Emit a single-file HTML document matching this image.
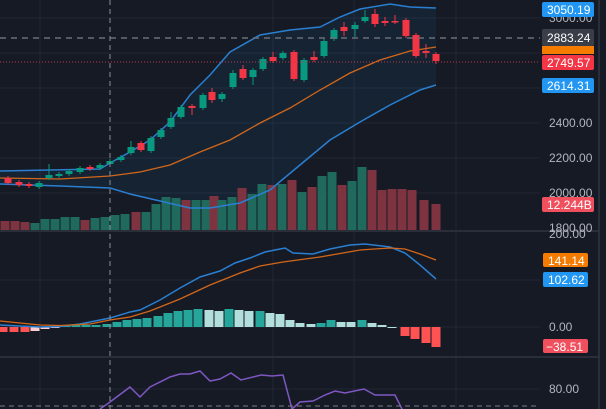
<!DOCTYPE html>
<html><head><meta charset="utf-8"><style>
html,body{margin:0;padding:0;background:#161a25;width:606px;height:409px;overflow:hidden}
svg{display:block}
text{font-family:"Liberation Sans",sans-serif}
</style></head><body>
<svg id="s" width="606" height="409" xmlns="http://www.w3.org/2000/svg">
<rect width="606" height="409" fill="#161a25"/>
<g stroke="#232733" stroke-width="1">
<line x1="0" y1="18" x2="540" y2="18"/><line x1="0" y1="53" x2="540" y2="53"/><line x1="0" y1="88" x2="540" y2="88"/>
<line x1="0" y1="123" x2="540" y2="123"/><line x1="0" y1="158" x2="540" y2="158"/><line x1="0" y1="193" x2="540" y2="193"/>
<line x1="0" y1="280" x2="540" y2="280"/><line x1="0" y1="327" x2="540" y2="327"/><line x1="0" y1="389" x2="540" y2="389"/>
<line x1="40" y1="0" x2="40" y2="409"/><line x1="273" y1="0" x2="273" y2="409"/><line x1="354" y1="0" x2="354" y2="409"/><line x1="456" y1="0" x2="456" y2="409"/>
</g>
<line x1="0" y1="231" x2="600" y2="231" stroke="#2a2e39" stroke-width="2"/>
<line x1="0" y1="357" x2="600" y2="357" stroke="#2a2e39" stroke-width="2"/>
<line x1="599" y1="0" x2="599" y2="409" stroke="#2a2e39" stroke-width="2"/>
<g id="g"></g>
<line x1="0" y1="38" x2="540" y2="38" stroke="#6a6e78" stroke-width="1.5" stroke-dasharray="6,5"/>
<line x1="0" y1="62" x2="540" y2="62" stroke="#c0384a" stroke-width="1" stroke-dasharray="1,2"/>
<line x1="110" y1="0" x2="110" y2="409" stroke="#8a8e98" stroke-width="1" stroke-dasharray="5,4"/>
<line x1="0" y1="406" x2="540" y2="406" stroke="#7a7e88" stroke-width="1" stroke-dasharray="5,4"/>
<g font-size="12" fill="#b2b5be">
<text x="549" y="22">3000.00</text>
<text x="549" y="127">2400.00</text>
<text x="549" y="162">2200.00</text>
<text x="549" y="197">2000.00</text>
<text x="549" y="232">1800.00</text>
<text x="549" y="238">200.00</text>
<text x="549" y="331">0.00</text>
<text x="549" y="393">80.00</text>
</g>
<g font-size="12" fill="#fff">
<rect x="542" y="2" width="52" height="15" rx="2" fill="#2196f3"/><text x="547" y="14">3050.19</text>
<rect x="542" y="46" width="52" height="8" fill="#f57c00"/>
<rect x="542" y="29" width="52" height="17" rx="2" fill="#3a3e48"/><text x="547" y="42">2883.24</text>
<rect x="542" y="55" width="52" height="15" rx="2" fill="#f23645"/><text x="547" y="67">2749.57</text>
<rect x="542" y="78" width="52" height="15" rx="2" fill="#2196f3"/><text x="547" y="90">2614.31</text>
<rect x="542" y="197" width="52" height="15" rx="2" fill="#f0505e"/><text x="547" y="209">12.244B</text>
<rect x="543" y="253" width="45" height="14" rx="2" fill="#f57c00"/><text x="548" y="265">141.14</text>
<rect x="543" y="272" width="45" height="15" rx="2" fill="#2196f3"/><text x="548" y="284">102.62</text>
<rect x="543" y="339" width="45" height="14" rx="2" fill="#f0505e"/><text x="546" y="351">−38.51</text>
</g>
</svg>
<script>
const g=document.getElementById('g');let h='';
const P=a=>a.map(p=>p.join(',')).join(' ');
const up=[[0,171],[100,169],[110,163],[130,152],[150,140],[170,122],[190,95],[210,75],[230,52],[260,35],[290,30],[320,27],[340,17],[360,9],[390,4],[410,7],[436,8]];
const lo=[[0,184],[60,186],[110,188],[130,194],[160,201],[190,208],[210,208],[240,203],[270,190],[300,165],[330,140],[360,122],[390,105],[420,90],[436,85]];
const mid=[[0,178],[60,179],[110,176],[140,172],[170,165],[200,152],[230,140],[260,123],[290,108],[320,90],[350,73],[380,60],[410,51],[436,47]];
h+=`<polygon points="${P(up)} ${P(lo.slice().reverse())}" fill="rgba(33,150,243,0.07)"/>`;
// volume
const vol=[[5,221,'r'],[15,221,'r'],[25,222,'r'],[35,223,'g'],[45,219,'g'],[55,219,'g'],[65,217,'g'],[75,217,'g'],[85,220,'r'],[95,218,'g'],[105,217,'g'],[115,215,'g'],[125,214,'g'],[136,212,'r'],[146,212,'g'],[156,204,'g'],[166,197,'g'],[176,198,'g'],[186,200,'r'],[196,200,'g'],[206,200,'g'],[214,196,'r'],[222,200,'g'],[232,197,'g'],[242,188,'r'],[252,194,'g'],[262,184,'g'],[272,185,'r'],[282,184,'g'],[292,180,'r'],[302,192,'g'],[312,187,'r'],[322,176,'g'],[332,172,'g'],[342,185,'r'],[352,181,'g'],[362,167,'g'],[372,170,'r'],[382,190,'r'],[392,189,'r'],[402,189,'r'],[412,190,'r'],[424,200,'r'],[436,204,'r']];
vol.forEach(v=>h+=`<rect x="${v[0]-4.5}" y="${v[1]}" width="9" height="${230-v[1]}" fill="${v[2]=='g'?'#1f6a5c':'#7e3440'}"/>`);
h+=`<polyline points="${P(up)}" fill="none" stroke="#2a7fd0" stroke-width="1.5"/>`;
h+=`<polyline points="${P(lo)}" fill="none" stroke="#2a7fd0" stroke-width="1.5"/>`;
h+=`<polyline points="${P(mid)}" fill="none" stroke="#d2671a" stroke-width="1.3"/>`;
// candles [cx, o, c, wickTop, wickBot]
const C=[[8,178,183,'r'],[19,182,185,'r'],[29,184,186,'r'],[39,183,187,'g'],[49,175,178,'g',164],[59,174,176,'g'],[69,171,174,'g'],[80,168,172,'g'],[90,167,169,'r'],[100,165,168,'g'],[110,161,164,'g'],[121,157,160,'g'],[131,147,153,'g',141],[141,143,150,'r'],[151,138,151,'g'],[161,130,137,'g'],[171,118,127,'g',112],[181,107,117,'g'],[192,106,108,'r',104,115],[203,95,108,'g'],[212,92,100,'r',88,103],[222,94,99,'g',92,102],[233,73,87,'g',70],[243,69,78,'r',65],[253,70,77,'g',68,85],[263,59,69,'g'],[273,57,61,'r',52],[283,53,58,'g'],[294,52,79,'r',50],[304,60,80,'g'],[314,57,60,'r',51],[324,41,56,'g'],[334,30,39,'g'],[344,27,31,'r',22,36],[355,25,29,'g',22,37],[365,17,21,'g',10],[375,14,24,'r',9,27],[385,21,23,'r',17,26],[395,21,22,'r',15],[406,20,36,'r'],[416,35,56,'r'],[426,51,53,'r',44,58],[436,54,61,'r',52,64]];
C.forEach(c=>{const col=c[3]=='g'?'#089981':'#f23645';const wt=c[4]||c[1]-2,wb=c[5]||c[2]+2;
h+=`<line x1="${c[0]}" y1="${wt}" x2="${c[0]}" y2="${wb}" stroke="${col}" stroke-width="1"/><rect x="${c[0]-3.5}" y="${c[1]}" width="7" height="${Math.max(1.5,c[2]-c[1])}" fill="${col}"/>`});
// MACD histogram
const H=[[3,332,'R'],[14,332,'R'],[25,332,'R'],[35,331,'p'],[45,329,'p'],[55,328,'p'],[66,326,'G'],[76,325,'G'],[86,325,'G'],[96,325,'G'],[107,324,'G'],[117,322,'G'],[127,320,'G'],[137,319,'G'],[147,318,'G'],[158,316,'G'],[168,313,'G'],[178,311,'G'],[188,310,'G'],[198,309,'G'],[209,310,'L'],[219,311,'L'],[229,309,'G'],[239,310,'L'],[249,311,'L'],[260,311,'G'],[270,313,'L'],[280,314,'L'],[290,320,'L'],[300,323,'L'],[311,324,'L'],[321,323,'G'],[331,320,'G'],[341,322,'L'],[351,322,'L'],[362,320,'G'],[372,323,'L'],[382,325,'L'],[392,327,'L'],[405,336,'R'],[415,339,'R'],[426,343,'R'],[436,347,'R']];
const HC={R:'#ff5252',p:'#ffcdd2',G:'#26a69a',L:'#b2dfdb'};
H.forEach(b=>{const y=Math.min(b[1],327),hh=Math.max(1,Math.abs(b[1]-327));h+=`<rect x="${b[0]-4.5}" y="${y}" width="9" height="${hh}" fill="${HC[b[2]]}"/>`});
const mb=[[0,325],[40,327],[60,326.5],[80,324],[110,318],[130,312],[140,310],[160,300],[180,288],[200,277],[220,271],[235,263],[250,258],[265,252],[280,249],[285,248],[293,253],[313,254],[330,249],[350,245],[365,244],[390,247],[405,253],[420,265],[436,279]];
const mo=[[0,321],[40,325],[60,325.5],[90,324],[110,320],[130,317],[150,311],[180,299],[210,285],[240,273],[260,266],[283,262],[320,257],[360,250],[390,248],[405,249],[420,254],[436,260]];
h+=`<polyline points="${P(mb)}" fill="none" stroke="#2a7fd0" stroke-width="1.5"/>`;
h+=`<polyline points="${P(mo)}" fill="none" stroke="#d2671a" stroke-width="1.3"/>`;
const rsi=[[100,409],[110,402],[130,387],[140,397],[150,387],[170,377],[180,374],[190,374],[200,371],[210,381],[220,379],[231,373],[241,380],[261,375],[272,376],[283,375],[292,409],[300,402],[313,401],[325,395],[335,391],[345,393],[364,389],[375,395],[395,395],[402,409]];
h+=`<polyline points="${P(rsi)}" fill="none" stroke="#7e57c2" stroke-width="1.5"/>`;
g.innerHTML=h;
</script>
</body></html>
